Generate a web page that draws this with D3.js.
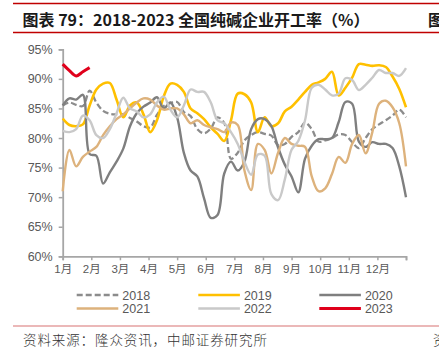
<!DOCTYPE html>
<html><head><meta charset="utf-8">
<script src="https://cdn.jsdelivr.net/npm/d3@7"></script>
<style>body{margin:0;background:#fff;} svg{display:block;}</style>
</head><body><svg id="c" width="439" height="358"></svg>
<script>
const months = ["1月","2月","3月","4月","5月","6月","7月","8月","9月","10月","11月","12月"];
const yTicks = [60,65,70,75,80,85,90,95];
const years = ["2018","2019","2020","2021","2022","2023"];
const v2018 = [85.5,86.0,85.6,85.4,88.0,86.0,84.6,84.1,84.0,84.0,83.4,82.8,82.0,81.8,83.9,85.4,85.9,86.1,84.4,83.7,81.5,80.8,81.6,83.5,82.5,76.5,77.5,79.6,80.5,81.0,80.7,80.4,78.8,79.0,80.2,81.0,82.6,81.5,79.4,79.6,80.0,80.6,80.5,79.3,78.3,80.0,81.5,82.3,83.0,83.8,84.8,83.5];
const v2019 = [83.3,82.2,82.0,82.3,85.5,88.2,89.2,89.3,86.5,83.5,85.5,86.0,84.0,81.0,83.0,87.0,89.2,89.0,87.8,85.0,84.2,83.2,81.8,80.7,79.5,83.0,87.5,87.4,86.0,81.0,83.5,82.0,82.5,84.5,85.3,86.5,87.8,89.0,89.4,90.0,91.2,87.2,88.5,90.2,92.5,92.4,92.2,92.3,92.0,90.4,88.3,85.2];
const v2020 = [85.5,86.7,86.5,87.3,77.3,77.0,72.3,74.2,76.0,78.2,82.0,84.2,85.3,86.0,86.9,85.0,86.0,83.5,77.5,74.5,73.5,69.8,66.5,67.0,74.0,76.0,74.5,76.0,81.5,83.2,83.2,82.0,78.4,75.5,73.5,70.8,76.5,78.7,79.8,79.8,80.0,82.7,86.1,85.8,79.4,78.5,79.3,79.0,79.0,78.3,75.2,70.0];
const v2021 = [71.0,78.0,75.2,76.8,77.7,78.5,80.5,82.0,83.2,84.0,85.0,86.0,86.7,86.5,85.5,84.8,85.0,85.0,84.0,82.5,83.0,82.2,81.8,81.5,81.0,82.6,82.2,74.5,71.2,79.0,78.0,74.0,77.5,80.0,79.0,78.7,78.5,73.5,71.0,71.5,73.9,76.8,75.8,79.0,80.5,77.4,81.0,85.8,86.3,85.2,82.5,75.2];
const v2022 = [81.2,81.0,81.5,83.8,83.0,80.5,80.0,81.5,84.2,86.8,85.0,84.5,83.5,84.0,86.0,87.0,84.8,83.5,85.5,88.2,87.8,87.8,86.0,83.0,82.5,81.0,79.0,76.0,73.8,77.2,77.0,70.5,69.5,73.0,78.0,79.5,83.0,88.5,89.0,88.2,87.2,87.5,90.1,89.8,88.1,89.0,90.2,91.5,91.0,91.0,90.5,91.8];
const v2023 = [92.5,91.4,90.5,91.2,91.9];

const values = [v2018,v2019,v2020,v2021,v2022,v2023];
const colors = ["#8C8C8C","#FFC000","#7F7F7F","#DDB27C","#C9C9C9","#E0001B"];
const widths = [2.3,2.6,2.4,2.4,2.4,3];
const dashes = ["6,3",null,null,null,null,null];

const svg = d3.select("#c");
const x0 = 62.7, x1 = 406, yTop = 49.3, yBot = 256.3;
const x = d3.scaleLinear().domain([0,51]).range([x0,x1]);
const xm = d3.scaleLinear().domain([0,12]).range([x0,x1]);
const y = d3.scaleLinear().domain([60,95]).range([yBot,yTop]);

// header lines
svg.append("line").attr("x1",13).attr("x2",439).attr("y1",3.5).attr("y2",3.5).attr("stroke","#C00000").attr("stroke-width",1.5);
svg.append("line").attr("x1",13).attr("x2",439).attr("y1",32.5).attr("y2",32.5).attr("stroke","#C00000").attr("stroke-width",1.5);
svg.append("text").attr("x",22.5).attr("y",25.5).attr("font-family","'Noto Sans CJK SC',sans-serif").attr("font-weight","bold").attr("font-size",16).attr("fill","#1a1a1a").text("图表 79：2018-2023 全国纯碱企业开工率（%）");
svg.append("text").attr("x",428).attr("y",25.5).attr("font-family","'Noto Sans CJK SC',sans-serif").attr("font-weight","bold").attr("font-size",16).attr("fill","#1a1a1a").text("图");

// axes
const axisColor = "#A6A6A6", labelColor = "#595959";
const yAxis = svg.append("g").attr("transform",`translate(${x0},0)`)
  .call(d3.axisLeft(y).tickValues(yTicks).tickFormat(d=>d+"%").tickSize(4).tickPadding(6));
yAxis.select(".domain").attr("stroke",axisColor).attr("stroke-width",1.8);
yAxis.selectAll(".tick line").attr("stroke",axisColor).attr("stroke-width",1.5);
yAxis.selectAll("text").attr("font-family","'Liberation Sans',Arial,sans-serif").attr("font-size",12.5).attr("fill",labelColor);

const xAxis = svg.append("g").attr("transform",`translate(0,${yBot})`)
  .call(d3.axisBottom(xm).tickValues(d3.range(13)).tickFormat(i=>i<12?months[i]:"").tickSize(4).tickPadding(5));
xAxis.select(".domain").attr("stroke",axisColor).attr("stroke-width",1.8);
xAxis.selectAll(".tick line").attr("stroke",axisColor).attr("stroke-width",1.5);
xAxis.selectAll("text").attr("font-family","'Liberation Sans','Noto Sans CJK SC',sans-serif").attr("font-size",11.5).attr("fill",labelColor);

// lines
const line = d3.line().x((d,i)=>x(i)).y(d=>y(d)).curve(d3.curveCatmullRom.alpha(0.5));
values.forEach((vals,k)=>{
  const p = svg.append("path").datum(vals).attr("d",line).attr("fill","none")
    .attr("stroke",colors[k]).attr("stroke-width",widths[k]).attr("stroke-linejoin","round");
  if(dashes[k]) p.attr("stroke-dasharray",dashes[k]);
});

// legend
const legX = [76.7,198.3,319.3], legY = [295,308.5];
years.forEach((yr,k)=>{
  const cx = legX[k%3], cy = legY[Math.floor(k/3)];
  const l = svg.append("line").attr("x1",cx).attr("x2",cx+41.6).attr("y1",cy).attr("y2",cy)
    .attr("stroke",colors[k]).attr("stroke-width",widths[k]);
  if(dashes[k]) l.attr("stroke-dasharray",dashes[k]);
  svg.append("text").attr("x",cx+45.6).attr("y",cy+4.5).attr("font-family","'Liberation Sans',Arial,sans-serif")
    .attr("font-size",12.5).attr("fill",labelColor).text(yr);
});

// footer
svg.append("line").attr("x1",13).attr("x2",439).attr("y1",326).attr("y2",326).attr("stroke","#E5A0A0").attr("stroke-width",1.5);
svg.append("text").attr("x",23).attr("y",344.5).attr("font-family","'Noto Sans CJK SC',sans-serif").attr("font-weight",300)
  .attr("font-size",13.5).attr("letter-spacing",0.9).attr("fill","#333").text("资料来源：隆众资讯，中邮证券研究所");
svg.append("text").attr("x",433).attr("y",344.5).attr("font-family","'Noto Sans CJK SC',sans-serif").attr("font-weight",300)
  .attr("font-size",13.5).attr("fill","#333").text("资");
</script></body></html>
